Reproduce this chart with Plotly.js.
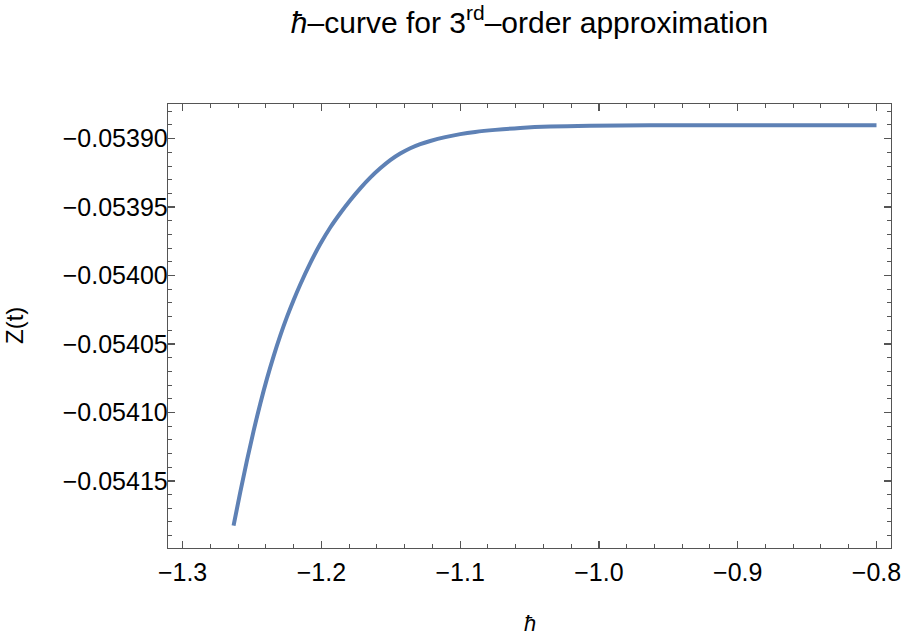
<!DOCTYPE html>
<html>
<head>
<meta charset="utf-8">
<script src="https://cdn.plot.ly/plotly-3.0.1.min.js"></script>
<style>html,body{margin:0;padding:0;background:#fff;}#chart{width:902px;height:637px;}</style>
</head>
<body>
<div id="chart"></div>
<script>
const hbar = [-1.26326, -1.25843, -1.25360, -1.24885, -1.24402, -1.23919, -1.23444, -1.22961, -1.22478, -1.22003, -1.21520, -1.20800, -1.20079, -1.19359, -1.18638, -1.17918, -1.17197, -1.16477, -1.15757, -1.15036, -1.14316, -1.13595, -1.12875, -1.12154, -1.11073, -1.09993, -1.08912, -1.07471, -1.05670, -1.03509, -1.00627, -0.96305, -0.89100, -0.80000];
const zt = [-0.0541826, -0.0541582, -0.0541350, -0.0541136, -0.0540936, -0.0540753, -0.0540590, -0.0540439, -0.0540302, -0.0540180, -0.0540065, -0.0539909, -0.0539770, -0.0539649, -0.0539545, -0.0539450, -0.0539363, -0.0539285, -0.0539217, -0.0539157, -0.0539109, -0.0539070, -0.0539040, -0.0539017, -0.0538989, -0.0538967, -0.0538951, -0.0538936, -0.0538922, -0.0538912, -0.0538906, -0.0538903, -0.0538902, -0.0538902];
const titleText = '<i>ħ</i>–curve for 3<sup>rd</sup>–order approximation';
const xLabel = '<i>ħ</i>';
const yLabel = 'Z(t)';

const font = 'Liberation Sans, Arial, sans-serif';
const frameColor = '#555555';

const trace = {
  x: hbar, y: zt, type: 'scatter', mode: 'lines',
  line: {color: '#5E81B5', width: 4, shape: 'spline', smoothing: 1},
  hoverinfo: 'skip'
};

const axisCommon = {
  showline: true, linecolor: frameColor, linewidth: 1.3, mirror: 'ticks',
  ticks: 'inside', ticklen: 7, tickwidth: 1.2, tickcolor: frameColor,
  showgrid: false, zeroline: false,
  tickfont: {family: font, size: 25, color: '#000'}
};

const layout = {
  width: 902, height: 637,
  margin: {l: 168, r: 11, t: 104, b: 89},
  paper_bgcolor: '#fff', plot_bgcolor: '#fff',
  showlegend: false,
  title: {text: titleText, font: {family: font, size: 30, color: '#000'},
          x: 0.5, xref: 'paper', y: 1 - 22/637, yref: 'container', yanchor: 'middle'},
  xaxis: Object.assign({}, axisCommon, {
    range: [-1.3105, -0.78955], dtick: 0.1, tick0: -1.3, tickformat: '.1f', ticklabelstandoff: 2,
    minor: {ticks: 'inside', dtick: 0.02, tick0: -1.3, ticklen: 4, tickcolor: frameColor, tickwidth: 1}
  }),
  yaxis: Object.assign({}, axisCommon, {
    range: [-0.054199, -0.0538747], dtick: 0.00005, tick0: -0.0539, tickformat: '.5f', ticklabelstandoff: -6,
    minor: {ticks: 'inside', dtick: 0.00001, tick0: -0.0539, ticklen: 4, tickcolor: frameColor, tickwidth: 1}
  }),
  annotations: [
    {text: xLabel, xref: 'paper', yref: 'paper', x: 0.5, y: 0, yshift: -75, xanchor: 'center', yanchor: 'middle',
     showarrow: false, font: {family: font, size: 22, color: '#000'}},
    {text: yLabel, xref: 'paper', yref: 'paper', x: 0, xshift: -154, y: 0.5, xanchor: 'center', yanchor: 'middle',
     textangle: -90, showarrow: false, font: {family: font, size: 24, color: '#000'}}
  ]
};

Plotly.newPlot('chart', [trace], layout, {staticPlot: true, displayModeBar: false});
</script>
</body>
</html>
